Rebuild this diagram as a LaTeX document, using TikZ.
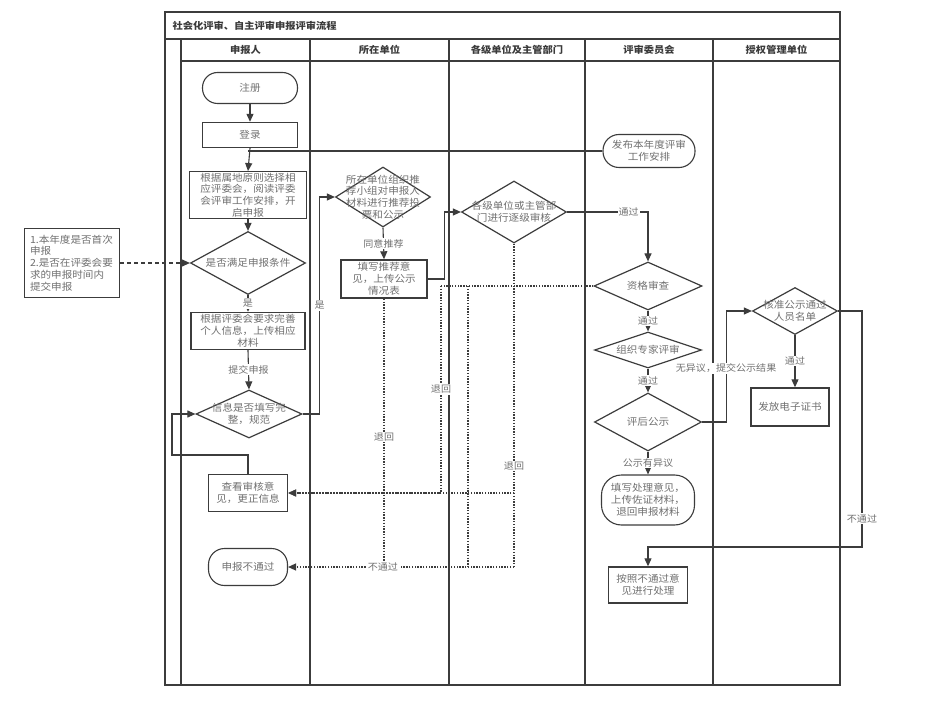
\documentclass[tikz,border=0pt]{standalone}
\usepackage{fontspec}
\setmainfont[FakeStretch=1.08]{Noto Sans CJK SC}
\usetikzlibrary{shapes.geometric,arrows.meta}
\definecolor{ln}{HTML}{3C3C3C}
\definecolor{tx}{HTML}{707070}
\definecolor{hd}{HTML}{3A3A3A}
\begin{document}
\begin{tikzpicture}[x=1pt,y=-1pt,
  every node/.style={font=\fontsize{9.8}{11.8}\selectfont, text=tx},
  box/.style={draw=ln, line width=1.4pt, rectangle, inner sep=1pt, align=center},
  term/.style={draw=ln, line width=1.1pt, rectangle, rounded corners=#1, inner sep=1pt, align=center},
  term/.default=15pt,
  dia/.style={draw=ln, line width=1.2pt, diamond, inner sep=0pt},
  dtext/.style={align=center, inner sep=0pt},
  frame/.style={draw=ln, line width=1.1pt},
  hdr/.style={font=\fontsize{9.5}{11}\selectfont\bfseries, text=hd},
  lbl/.style={fill=white, inner sep=1pt, font=\fontsize{9.3}{11}\selectfont},
  arr/.style={draw=ln, line width=1.1pt, -{Triangle[length=8pt,width=7pt]}},
  plain/.style={draw=ln, line width=1.1pt},
  dsh/.style={draw=ln, line width=1.1pt, dash pattern=on 4pt off 3pt, -{Triangle[length=8pt,width=7pt]}},
  dot/.style={draw=ln, line width=1.2pt, dash pattern=on 1.4pt off 1.4pt},
  dotarr/.style={dot, -{Triangle[length=8pt,width=7pt]}}
]
\fill[white] (0,0) rectangle (934,711);
\useasboundingbox (0,0) rectangle (934,711);

% frame and lanes
\draw[frame] (165,12) rectangle (840,685);
\draw[frame] (165,39) -- (840,39);
\draw[frame] (181,61) -- (840,61);
\foreach \x in {181,310,449,585,713} {\draw[frame] (\x,39) -- (\x,685);}
\node[hdr, anchor=west] (title) at (169,26) {社会化评审、自主评审申报评审流程};
\node[hdr] (h1) at (245.5,50) {申报人};
\node[hdr] (h2) at (379.5,50) {所在单位};
\node[hdr] (h3) at (517,50) {各级单位及主管部门};
\node[hdr] (h4) at (649,50) {评审委员会};
\node[hdr] (h5) at (776.5,50) {授权管理单位};

% 申报人
\node[term=15pt, minimum width=95pt, minimum height=31pt] (zhuce) at (250,88) {注册};
\node[box, minimum width=95pt, minimum height=25pt] (denglu) at (250,135) {登录};
\node[box, minimum width=117pt, minimum height=45pt] (genju) at (248,195) {根据属地原则选择相\\应评委会，阅读评委\\会评审工作安排，开\\启申报};
\node[dia, minimum width=115pt, minimum height=63pt] (d1) at (248,263) {};
\node[dtext] (d1t) at (d1) {是否满足申报条件};
\node[box, minimum width=95pt, minimum height=69pt, text width=84pt, align=left] (note) at (72,263) {1.本年度是否首次\\申报\\2.是否在评委会要\\求的申报时间内\\提交申报};
\node[box, minimum width=114pt, minimum height=37pt] (wanshan) at (248,331) {根据评委会要求完善\\个人信息，上传相应\\材料};
\node[dia, minimum width=106pt, minimum height=48pt] (d2) at (249,414) {};
\node[dtext] (d2t) at (d2) {信息是否填写完\\整，规范};
\node[box, minimum width=79pt, minimum height=37pt] (chakan) at (248,493) {查看审核意\\见，更正信息};
\node[term=16pt, minimum width=79pt, minimum height=37pt] (bu) at (248,567) {申报不通过};

% 所在单位
\node[dia, minimum width=95pt, minimum height=60pt] (d3) at (383,197) {};
\node[dtext] (d3t) at (d3) {所在单位组织推\\荐小组对申报人\\材料进行推荐投\\票和公示};
\node[box, minimum width=86pt, minimum height=38pt] (tuijian) at (384,279) {填写推荐意\\见，上传公示\\情况表};

% 各级单位及主管部门
\node[dia, minimum width=105pt, minimum height=62pt] (d4) at (514,212) {};
\node[dtext] (d4t) at (d4) {各级单位或主管部\\门进行逐级审核};

% 评审委员会
\node[term=16pt, minimum width=92pt, minimum height=33pt] (fabu) at (649,151) {发布本年度评审\\工作安排};
\node[dia, minimum width=108pt, minimum height=48pt] (d5) at (648,286) {};
\node[dtext] (d5t) at (d5) {资格审查};
\node[dia, minimum width=107pt, minimum height=36pt] (d6) at (648,350) {};
\node[dtext] (d6t) at (d6) {组织专家评审};
\node[dia, minimum width=107pt, minimum height=58pt] (d7) at (648,422) {};
\node[dtext] (d7t) at (d7) {评后公示};
\node[term=20pt, minimum width=93pt, minimum height=50pt] (chuli) at (648,500) {填写处理意见，\\上传佐证材料，\\退回申报材料};
\node[box, minimum width=79pt, minimum height=36pt] (anzhao) at (648,585) {按照不通过意\\见进行处理};

% 授权管理单位
\node[dia, minimum width=85pt, minimum height=47pt] (d8) at (795,311) {};
\node[dtext] (d8t) at (d8) {核准公示通过\\人员名单};
\node[box, minimum width=78pt, minimum height=38pt] (fafang) at (790,407) {发放电子证书};

% connectors
\draw[arr] (zhuce.south) -- (denglu.north);
\draw[arr] (denglu.south) -- (genju.north);
\draw[plain] (fabu.west) -- (fabu.west -| genju.north);
\draw[arr] (genju.south) -- (d1.north);
\draw[dsh] (note.east) -- (d1.west);
\draw[arr] (d1.south) -- node[lbl]{是} (wanshan.north);
\draw[arr] (wanshan.south) -- node[lbl]{提交申报} (d2.north);
\draw[arr] (d2.east) -- ++(17,0) |- node[lbl,pos=0.25]{是} (d3.west);
\coordinate (k1) at (172,455);
\draw[arr] (chakan.north) |- (k1) |- (d2.west);
\draw[arr] (d3.south) -- node[lbl]{同意推荐} (tuijian.north);
\draw[arr] (tuijian.east) -- ++(17,0) |- (d4.west);
\draw[arr] (d4.east) -| node[lbl,pos=0.38]{通过} (d5.north);
\draw[arr] (d5.south) -- node[lbl]{通过} (d6.north);
\draw[arr] (d6.south) -- node[lbl]{通过} (d7.north);
\draw[arr] (d7.east) -- ++(24,0) |- node[lbl,pos=0.243]{无异议，提交公示结果} (d8.west);
\draw[arr] (d7.south) -- node[lbl]{公示有异议} (chuli.north);
\draw[arr] (d8.south) -- node[lbl]{通过} (d8.south |- fafang.north);
\coordinate (c1) at (862,547);
\draw[arr] (d8.east) -| node[lbl,pos=0.94]{不通过} (c1) -| (anzhao.north);

% dotted return lines
\coordinate (q1) at (441,286);
\coordinate (q2) at (468,286);
\coordinate (p514) at (514,567);
\draw[dot] (tuijian.south) -- node[lbl,pos=0.517]{退回} (tuijian.south |- bu.east);
\draw[dot] (d5.west) -- (q1);
\draw[dotarr] (q1) -- node[lbl]{退回} (q1 |- chakan.east) -- (chakan.east);
\draw[dot] (q2) -- (q2 |- bu.east);
\draw[dotarr] (d4.south) |- node[lbl,pos=0.446]{退回} (chakan.east);
\draw[dot] (d4.south |- chakan.east) -- (p514);
\draw[dotarr] (p514) -- node[lbl,pos=0.58]{不通过} (bu.east);
\end{tikzpicture}
\end{document}
